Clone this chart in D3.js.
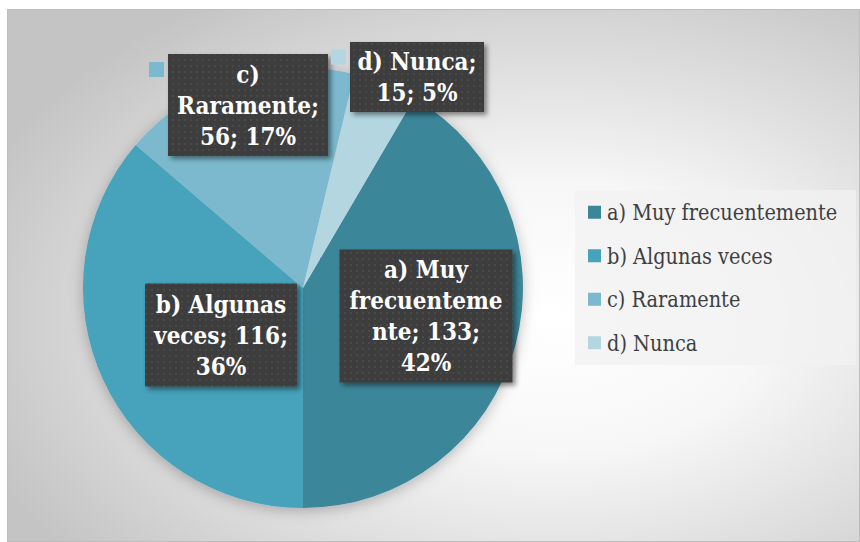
<!DOCTYPE html>
<html>
<head>
<meta charset="utf-8">
<script src="https://cdn.jsdelivr.net/npm/d3@7"></script>
<style>
  body { margin: 0; background: #fff; }
</style>
</head>
<body>
<svg id="chart" width="860" height="542"></svg>
<script>
// data
var categories = ["a) Muy frecuentemente", "b) Algunas veces", "c) Raramente", "d) Nunca"];
var values = [133, 116, 56, 15];
var percents = [42, 36, 17, 5];
// data label text as wrapped in the original
var labelLines = [
  ["a) Muy", "frecuenteme", "nte; 133;", "42%"],
  ["b) Algunas", "veces; 116;", "36%"],
  ["c)", "Raramente;", "56; 17%"],
  ["d) Nunca;", "15; 5%"]
];
var colors = ["#3b8699", "#47a2bb", "#7bb9ce", "#b3d6e1"];

// layout (label boxes: center offset from pie center, size)
var labelBoxes = [
  {dx: 123, dy: 28, w: 173, h: 133},
  {dx: -82, dy: 47, w: 152, h: 103},
  {dx: -55, dy: -183, w: 160, h: 102},
  {dx: 114, dy: -211, w: 134, h: 70}
];

var svg = d3.select("#chart");
var W = 860, H = 542;
var cx = 303, cy = 288, radius = 220;

var defs = svg.append("defs");

var bg = defs.append("radialGradient")
    .attr("id", "bgGrad")
    .attr("cx", "0.64").attr("cy", "0.58").attr("r", "0.72");
bg.append("stop").attr("offset", "0%").attr("stop-color", "#ffffff");
bg.append("stop").attr("offset", "35%").attr("stop-color", "#f7f7f7");
bg.append("stop").attr("offset", "100%").attr("stop-color", "#c4c4c4");

var dots = defs.append("pattern")
    .attr("id", "dots")
    .attr("patternUnits", "userSpaceOnUse")
    .attr("width", 6).attr("height", 6);
dots.append("rect").attr("width", 6).attr("height", 6).attr("fill", "#3d3d3d");
dots.append("circle").attr("cx", 3).attr("cy", 3).attr("r", 0.9).attr("fill", "#4f4f4f");

var pieShadow = defs.append("filter").attr("id", "pieShadow")
    .attr("x", "-20%").attr("y", "-20%").attr("width", "140%").attr("height", "140%");
pieShadow.append("feDropShadow")
    .attr("dx", 0).attr("dy", 3).attr("stdDeviation", 7)
    .attr("flood-color", "#000").attr("flood-opacity", 0.25);

var boxShadow = defs.append("filter").attr("id", "boxShadow")
    .attr("x", "-20%").attr("y", "-20%").attr("width", "150%").attr("height", "150%");
boxShadow.append("feDropShadow")
    .attr("dx", 3).attr("dy", 3).attr("stdDeviation", 2.5)
    .attr("flood-color", "#000").attr("flood-opacity", 0.45);

// chart area
svg.append("rect")
    .attr("x", 7.5).attr("y", 9.5)
    .attr("width", W - 8).attr("height", H - 10)
    .attr("fill", "url(#bgGrad)")
    .attr("stroke", "#bdbdbd").attr("stroke-width", 1);

// pie: a) ends straight down, order clockwise a, b, c, d
var total = d3.sum(values);
var startA = Math.PI - 2 * Math.PI * values[0] / total;
var pie = d3.pie().sort(null).startAngle(startA).endAngle(startA + 2 * Math.PI);
var arcs = pie(values);
var arc = d3.arc().innerRadius(0).outerRadius(radius);

var pieG = svg.append("g")
    .attr("transform", "translate(" + cx + "," + cy + ")")
    .attr("filter", "url(#pieShadow)");

pieG.selectAll("path")
  .data(arcs)
  .enter().append("path")
    .attr("d", arc)
    .attr("fill", function(d, i) { return colors[i]; });

// data labels
var labelFont = "'DejaVu Serif Condensed', 'DejaVu Serif', serif";
var lineH = 31;

var labels = svg.append("g").selectAll("g")
  .data(arcs)
  .enter().append("g")
    .attr("transform", function(d, i) {
      var b = labelBoxes[i];
      return "translate(" + (cx + b.dx) + "," + (cy + b.dy) + ")";
    });

// legend key shown in front of each label
labels.append("rect")
    .attr("x", function(d, i) { return -labelBoxes[i].w / 2 - 19; })
    .attr("y", function(d, i) {
      var n = labelLines[i].length;
      return -(n - 1) * lineH / 2 - 12;
    })
    .attr("width", 15).attr("height", 15)
    .attr("fill", function(d, i) { return colors[i]; });

labels.append("rect")
    .attr("x", function(d, i) { return -labelBoxes[i].w / 2; })
    .attr("y", function(d, i) { return -labelBoxes[i].h / 2; })
    .attr("width", function(d, i) { return labelBoxes[i].w; })
    .attr("height", function(d, i) { return labelBoxes[i].h; })
    .attr("fill", "url(#dots)")
    .attr("filter", "url(#boxShadow)");

labels.each(function(d, i) {
  var g = d3.select(this);
  var lines = labelLines[i];
  g.selectAll("text")
    .data(lines)
    .enter().append("text")
      .attr("x", 0)
      .attr("y", function(t, j) { return (j - (lines.length - 1) / 2) * lineH; })
      .attr("dy", "0.36em")
      .attr("text-anchor", "middle")
      .attr("font-family", labelFont)
      .attr("font-weight", "bold")
      .attr("font-size", 24)
      .attr("fill", "#ffffff")
      .text(function(t) { return t; });
});

// legend
var legendX = 575, legendY = 190;
var legend = svg.append("g");
legend.append("rect")
    .attr("x", legendX).attr("y", legendY)
    .attr("width", 281).attr("height", 175)
    .attr("fill", "#f2f2f2").attr("opacity", 0.75);

var legendY0 = d3.scaleBand()
    .domain(categories)
    .range([legendY + 1, legendY + 175])
    .padding(0);

var items = legend.selectAll(".item")
  .data(categories)
  .enter().append("g")
    .attr("class", "item")
    .attr("transform", function(c) {
      return "translate(" + (legendX + 13) + "," + (legendY0(c) + legendY0.bandwidth() / 2) + ")";
    });

items.append("rect")
    .attr("x", 0).attr("y", -7)
    .attr("width", 13).attr("height", 13)
    .attr("fill", function(c, i) { return colors[i]; });

items.append("text")
    .attr("x", 19)
    .attr("y", 0)
    .attr("dy", "0.35em")
    .attr("font-family", labelFont)
    .attr("font-size", 21.5)
    .attr("fill", "#404040")
    .text(function(c) { return c; });
</script>
</body>
</html>
